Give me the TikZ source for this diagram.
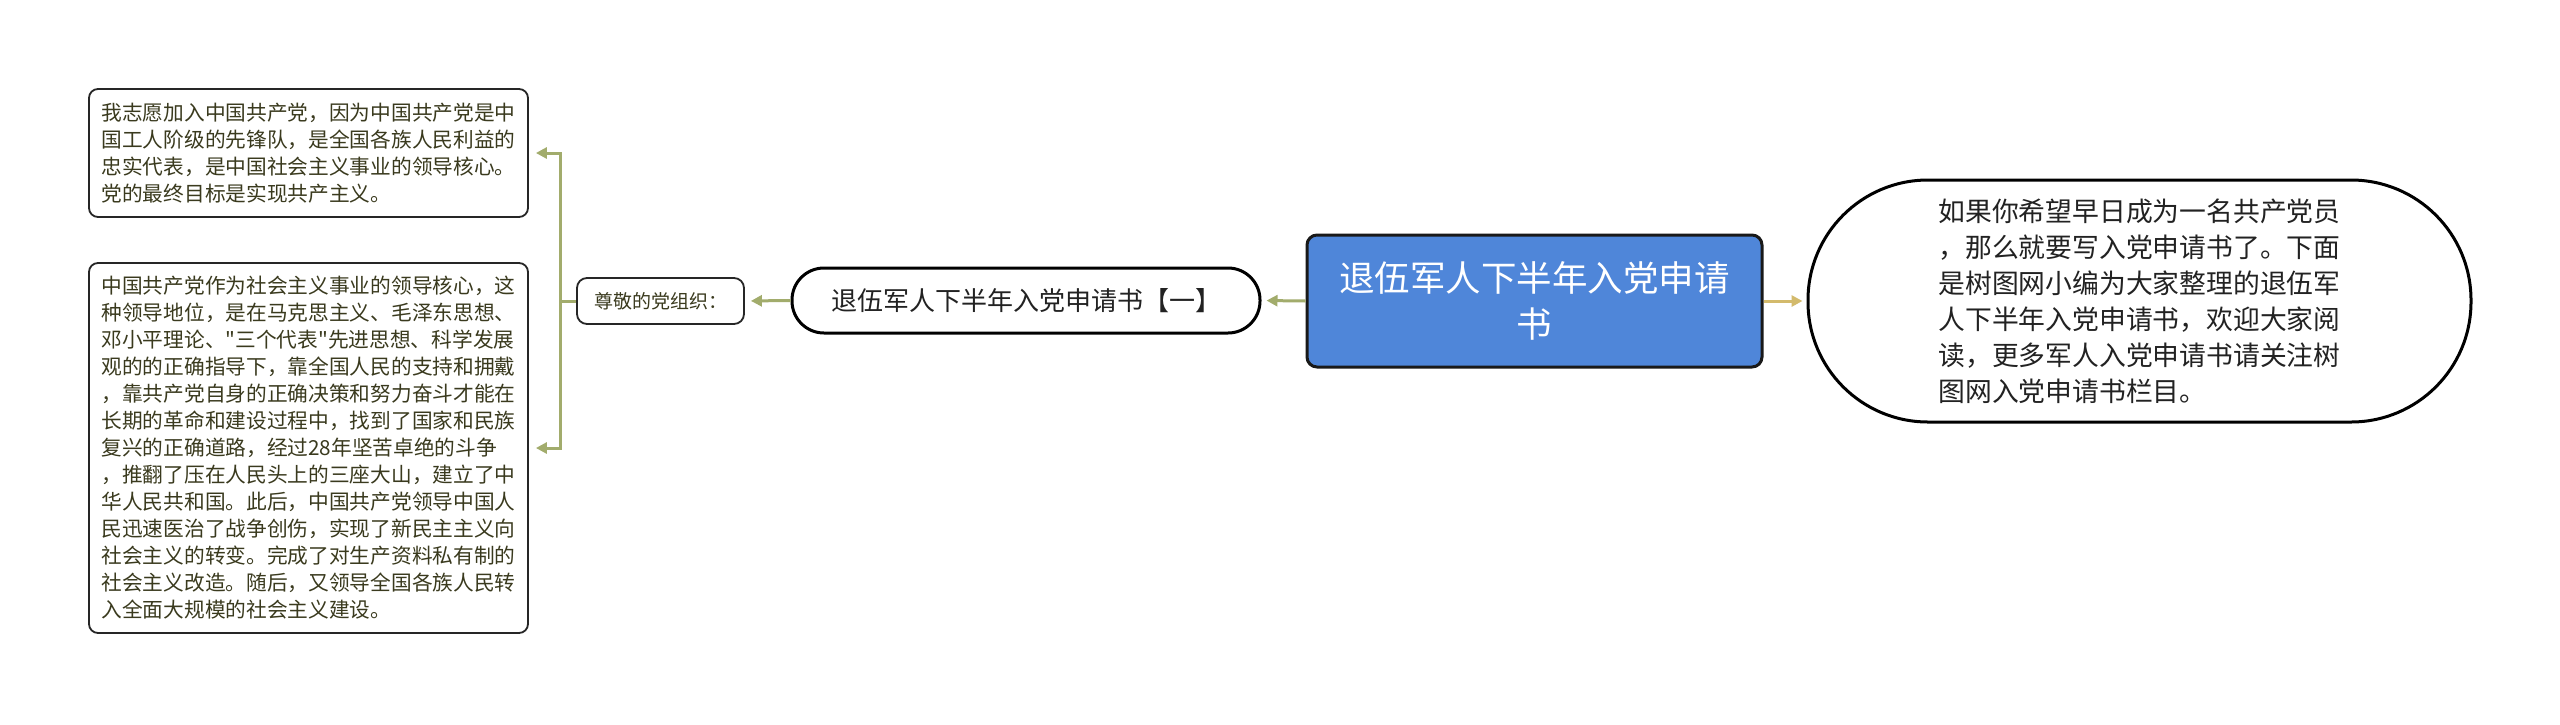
\documentclass[tikz,border=0pt]{standalone}
\usepackage{fontspec}
\newfontfamily\cjk{Noto Sans CJK SC}
\usetikzlibrary{arrows.meta}
\definecolor{linkgreen}{HTML}{A2AC6C}
\definecolor{linkgold}{HTML}{D3BA6C}
\definecolor{mainblue}{HTML}{4F86D9}
\definecolor{leaftext}{HTML}{3A3A1E}
\definecolor{darktext}{HTML}{222222}
\tikzset{
  leafbox/.style={draw=black!85, line width=1.8pt, rounded corners=9pt, fill=white,
    align=left, text=leaftext, inner sep=0pt,
    font=\cjk\fontsize{20.7pt}{27pt}\selectfont},
  link/.style={line width=3pt},
  tip/.style={-{Triangle[length=11pt,width=11pt]}}
}
\begin{document}
\begin{tikzpicture}[x=1pt,y=-1pt]
\useasboundingbox[fill=white] (0,0) rectangle (2560,724);

\node[leafbox, minimum width=439pt, minimum height=128pt] (top) at (308.5,153)
{我志愿加入中国共产党，因为中国共产党是中\\
国工人阶级的先锋队，是全国各族人民利益的\\
忠实代表，是中国社会主义事业的领导核心。\\
党的最终目标是实现共产主义。};

\node[leafbox, minimum width=439pt, minimum height=370pt] (bot) at (308.5,448)
{中国共产党作为社会主义事业的领导核心，这\\
种领导地位，是在马克思主义、毛泽东思想、\\
邓小平理论、"三个代表"先进思想、科学发展\\
观的的正确指导下，靠全国人民的支持和拥戴\\
，靠共产党自身的正确决策和努力奋斗才能在\\
长期的革命和建设过程中，找到了国家和民族\\
复兴的正确道路，经过28年坚苦卓绝的斗争\\
，推翻了压在人民头上的三座大山，建立了中\\
华人民共和国。此后，中国共产党领导中国人\\
民迅速医治了战争创伤，实现了新民主主义向\\
社会主义的转变。完成了对生产资料私有制的\\
社会主义改造。随后，又领导全国各族人民转\\
入全面大规模的社会主义建设。};

\node[draw=black!85, line width=1.8pt, rounded corners=10pt, text=leaftext,
  minimum width=167pt, minimum height=46pt, inner sep=0pt,
  font=\cjk\fontsize{19pt}{24pt}\selectfont] (zun) at (660.5,301) {尊敬的党组织：};

\node[draw=black, line width=3pt, rounded corners=32pt, text=darktext,
  minimum width=468pt, minimum height=65pt, inner sep=0pt,
  font=\cjk\fontsize{26pt}{32pt}\selectfont] (tui) at (1026,300.5) {退伍军人下半年入党申请书【一】};

\node[draw=black!90, fill=mainblue, line width=3pt, rounded corners=10pt, text=white,
  minimum width=455pt, minimum height=132pt, inner sep=0pt, align=center,
  font=\cjk\fontsize{35.5pt}{46pt}\selectfont] (main) at (1534.5,301)
{退伍军人下半年入党申请\\书};

\node[draw=black, line width=3pt, rounded corners=120pt, text=darktext,
  minimum width=663pt, minimum height=242pt, inner sep=0pt, align=left,
  font=\cjk\fontsize{26.8pt}{36pt}\selectfont] (intro) at (2139.5,301)
{如果你希望早日成为一名共产党员\\
，那么就要写入党申请书了。下面\\
是树图网小编为大家整理的退伍军\\
人下半年入党申请书，欢迎大家阅\\
读，更多军人入党申请书请关注树\\
图网入党申请书栏目。};

\coordinate (j) at (560,301);

\draw[link, draw=linkgold, -{Triangle[length=11pt,width=11pt,fill=linkgold]}, shorten >=4pt] (main.east) -- (intro.west);
\draw[link, draw=linkgreen, tip, shorten >=5pt] (main.west) -- (tui.east);
\draw[link, draw=linkgreen, tip, shorten >=6pt] (tui.west) -- (zun.east);
\draw[link, draw=linkgreen] (zun.west) -- (j);
\draw[link, draw=linkgreen, tip, shorten >=7pt] (j) |- (top.east);
\draw[link, draw=linkgreen, tip, shorten >=7pt] (j) |- (bot.east);
\end{tikzpicture}
\end{document}
